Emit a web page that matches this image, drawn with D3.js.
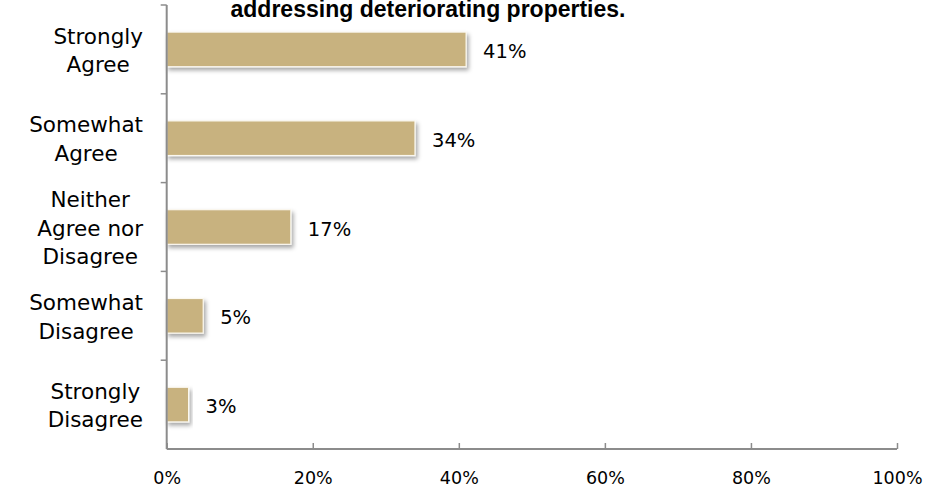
<!DOCTYPE html>
<html>
<head>
<meta charset="utf-8">
<script src="https://cdn.jsdelivr.net/npm/d3@7"></script>
<style>
  html, body { margin: 0; padding: 0; background: #fff; }
  svg { display: block; }
</style>
</head>
<body>
<svg id="chart" width="927" height="491"></svg>
<script>
// Survey responses (share of respondents)
const categories = [
  ["Strongly", "Agree"],
  ["Somewhat", "Agree"],
  ["Neither", "Agree nor", "Disagree"],
  ["Somewhat", "Disagree"],
  ["Strongly", "Disagree"]
];
const values = [0.41, 0.34, 0.17, 0.05, 0.03];
const xTicks = [0, 0.2, 0.4, 0.6, 0.8, 1.0];
const titleLine = "addressing deteriorating properties.";

const font = "'Century Gothic', 'URW Gothic', 'DejaVu Sans', sans-serif";
const titleFont = "'Century Gothic', 'Liberation Sans', Arial, sans-serif";
const svg = d3.select("#chart");
const plotLeft = 166.7, plotRight = 897, plotTop = 5, plotBottom = 449;
const axisColor = "#8c8c8c";

const keys = categories.map((c, i) => i);
const x = d3.scaleLinear().domain([0, 1]).range([plotLeft, plotRight]);
const y = d3.scaleBand().domain(keys).range([plotTop, plotBottom]).paddingInner(0.61).paddingOuter(0.305);

// drop shadow for bars
const defs = svg.append("defs");
const f = defs.append("filter").attr("id", "shadow")
  .attr("x", "-10%").attr("y", "-20%").attr("width", "130%").attr("height", "160%");
f.append("feDropShadow").attr("dx", 2).attr("dy", 3).attr("stdDeviation", 2)
  .attr("flood-color", "#000").attr("flood-opacity", 0.35);

// title (visible last line), sized to its set width
const title = svg.append("text")
  .attr("x", 428).attr("y", 17)
  .attr("text-anchor", "middle")
  .attr("font-family", titleFont).attr("font-weight", "bold").attr("font-size", 20)
  .attr("fill", "#000")
  .text(titleLine);
const tw = title.node().getComputedTextLength();
title.attr("font-size", Math.min(23, 20 * 407 / tw));

// bars
svg.append("g").selectAll("rect").data(values).join("rect")
  .attr("x", x(0))
  .attr("y", (d, i) => y(i))
  .attr("width", d => x(d) - x(0))
  .attr("height", y.bandwidth())
  .attr("fill", "#c8b27f")
  .attr("stroke", "#fbf8f0").attr("stroke-width", 1.2)
  .attr("filter", "url(#shadow)");

// x axis
const xAxis = d3.axisBottom(x).tickValues(xTicks).tickSize(-6).tickPadding(23)
  .tickFormat(d3.format(".0%"));
const gx = svg.append("g").attr("transform", `translate(0,${plotBottom})`).call(xAxis);
gx.select(".domain").attr("stroke", axisColor).attr("stroke-width", 2)
  .attr("d", `M${plotLeft},0H${plotRight}`);
gx.selectAll(".tick line").attr("stroke", axisColor).attr("stroke-width", 1.5);
gx.selectAll(".tick text").attr("font-family", font).attr("font-size", 17.5).attr("fill", "#000");

// y axis: line with tick marks at band boundaries
const gy = svg.append("g");
gy.append("line").attr("x1", plotLeft).attr("x2", plotLeft).attr("y1", plotTop).attr("y2", plotBottom)
  .attr("stroke", axisColor).attr("stroke-width", 2);
const gap = (y.step() - y.bandwidth()) / 2;
gy.selectAll("line.tk").data(keys.map(k => y(k) - gap))
  .join("line").attr("class", "tk")
  .attr("x1", plotLeft - 6).attr("x2", plotLeft)
  .attr("y1", d => d).attr("y2", d => d)
  .attr("stroke", axisColor).attr("stroke-width", 1.5);

// category labels: centred line blocks, right edge against the axis gap
const lab = svg.append("g").selectAll("text").data(categories).join("text")
  .attr("text-anchor", "middle")
  .attr("font-family", font).attr("font-size", 21.5).attr("fill", "#000");
lab.each(function(lines, i) {
  const t = d3.select(this);
  const lh = 28.5;
  lines.forEach((s, j) => {
    t.append("tspan").attr("x", 0)
      .attr("y", (j - (lines.length - 1) / 2) * lh + 8.5)
      .text(s);
  });
  const w = d3.max(t.selectAll("tspan").nodes(), n => n.getComputedTextLength());
  t.attr("transform", `translate(${143 - w / 2},${y(i) + y.bandwidth() / 2})`);
});

// value labels
svg.append("g").selectAll("text").data(values).join("text")
  .attr("x", d => x(d) + 17)
  .attr("y", (d, i) => y(i) + y.bandwidth() / 2 + 8.5)
  .attr("font-family", font).attr("font-size", 19.5).attr("fill", "#000")
  .text(d => d3.format(".0%")(d));
</script>
</body>
</html>
